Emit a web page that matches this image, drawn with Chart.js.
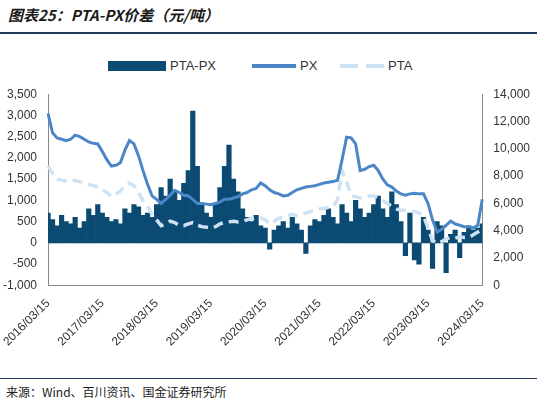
<!DOCTYPE html>
<html><head><meta charset="utf-8">
<script src="https://cdn.jsdelivr.net/npm/chart.js@4"></script>
<style>
body{margin:0;width:537px;height:405px;background:#fff;font-family:"Liberation Sans",Arial,sans-serif;position:relative;overflow:hidden}
#title{position:absolute;left:8px;top:4px;font-size:15px;font-weight:bold;font-style:italic;color:#1a1a1a;font-family:"Noto Sans CJK SC",sans-serif}
#tl{position:absolute;left:0;top:32px;width:537px;height:2px;background:#1f3a5a}
#bl{position:absolute;left:0;top:378px;width:537px;height:1px;background:#1f3a5a}
#src{position:absolute;left:6px;top:383px;font-size:12px;color:#222;font-family:"Noto Sans CJK SC",monospace}
#leg{position:absolute;top:58px;left:0;width:537px;font-size:13px;color:#333}
.it{position:absolute;top:0;display:flex;align-items:center}
#wrap{position:absolute;left:0;top:84px;width:537px;height:268px}
</style></head><body>
<div id="title">图表25：PTA-PX价差（元/吨）</div><div id="tl"></div>
<div id="leg">
<div class="it" style="left:108px"><span style="display:inline-block;width:58px;height:10px;background:#0b4a72;margin-right:4px"></span>PTA-PX</div>
<div class="it" style="left:252px"><span style="display:inline-block;width:44px;height:4px;background:#4a86c8;margin-right:4px"></span>PX</div>
<div class="it" style="left:340px"><span style="display:inline-block;width:18px;height:4px;background:#cde2f3;margin-right:8px"></span><span style="display:inline-block;width:18px;height:4px;background:#cde2f3;margin-right:4px"></span>PTA</div>
</div>
<div id="wrap"><canvas id="c" width="537" height="268"></canvas></div>
<div id="bl"></div>
<div id="src">来源：Wind、百川资讯、国金证券研究所</div>
<script>
const tickLabels=["2016/03/15","2017/03/15","2018/03/15","2019/03/15","2020/03/15","2021/03/15","2022/03/15","2023/03/15","2024/03/15"];
const categories=[];
for(let i=0;i<97;i++){const y=2016+Math.floor((i+2)/12);const m=((i+2)%12)+1;categories.push(y+"/"+String(m).padStart(2,"0")+"/15");}
const spread=[700,550,400,650,500,450,600,350,500,800,650,900,
700,600,500,550,450,800,700,900,850,650,700,600,
900,1300,1100,1500,1200,1000,1400,1700,3100,1800,900,700,
600,900,1300,1800,2300,1500,1200,800,600,500,650,400,
350,-150,300,400,500,350,600,450,300,-250,400,550,
500,650,800,600,450,900,700,500,1000,800,600,700,
900,1100,800,600,1200,900,500,-300,700,-400,-500,600,
300,-600,500,400,-700,200,300,-350,250,400,300,350,450];
const px=[12600,11170,10800,10700,10600,10700,11000,10900,10700,10500,10400,10360,
9800,9200,8740,8800,8980,9900,10600,10360,9500,8400,7400,6550,
6300,6000,6300,6600,6960,6800,6600,6550,6300,6000,6000,5950,
5900,6000,6100,6300,6300,6400,6500,6700,6800,7000,7100,7500,
7300,7000,6800,6700,6550,6600,6800,7000,7100,7200,7250,7300,
7400,7500,7550,7600,7700,9200,10850,10800,10360,8400,8500,8700,
8800,8400,7800,7360,7200,6900,6700,6600,6700,6750,6700,6700,
6000,4800,3900,4100,4400,4700,4500,4400,4300,4300,4200,4400,6300];
const pta=[8740,8200,7770,7700,7650,7600,7700,7600,7500,7400,7300,7200,
7000,6800,6500,6700,6900,7300,7500,7300,6800,6200,5750,5200,
4800,4370,4500,4700,4600,4400,4370,4500,4600,4400,4300,4250,
4200,4300,4500,4600,4650,4700,4650,4700,4800,4900,4940,4950,
4800,4500,4700,4900,5000,5100,5200,5100,5200,5300,5400,5500,
5600,5650,5700,5750,6300,8400,7600,6550,6500,6400,6500,6550,
6550,6400,6200,6000,5800,5600,5500,5500,5450,5400,5300,5100,
4200,3300,3070,3200,3400,3500,3450,3560,3500,3500,3700,3900,4100];
const ctx=document.getElementById('c');
new Chart(ctx,{data:{labels:categories,datasets:[
{type:'line',data:pta,yAxisID:'y2',borderColor:'#cde2f3',borderWidth:3.5,borderDash:[10,6],pointRadius:0,tension:0,order:1},
{type:'line',data:px,yAxisID:'y2',borderColor:'#4a86c8',borderWidth:3,pointRadius:0,tension:0,order:0},
{type:'bar',data:spread,yAxisID:'y',backgroundColor:'#0b4a72',categoryPercentage:1,barPercentage:1,order:2}
]},options:{responsive:false,animation:false,layout:{padding:{left:0,right:4,top:6}},
plugins:{legend:{display:false},tooltip:{enabled:false}},
scales:{x:{offset:false,grid:{display:false},border:{color:'#888'},
 ticks:{autoSkip:false,maxRotation:45,minRotation:45,color:'#333',font:{size:12},
  callback:(v,i)=>tickLabels.includes(categories[i])?categories[i]:null}},
y:{position:'left',min:-1000,max:3500,grid:{display:false},border:{color:'#888'},
 ticks:{stepSize:500,color:'#333',font:{size:12},callback:v=>v.toLocaleString('en-US')}},
y2:{position:'right',min:0,max:14000,grid:{display:false},border:{color:'#888'},
 ticks:{stepSize:2000,color:'#333',font:{size:12},callback:v=>v.toLocaleString('en-US')}}}}});
</script></body></html>
